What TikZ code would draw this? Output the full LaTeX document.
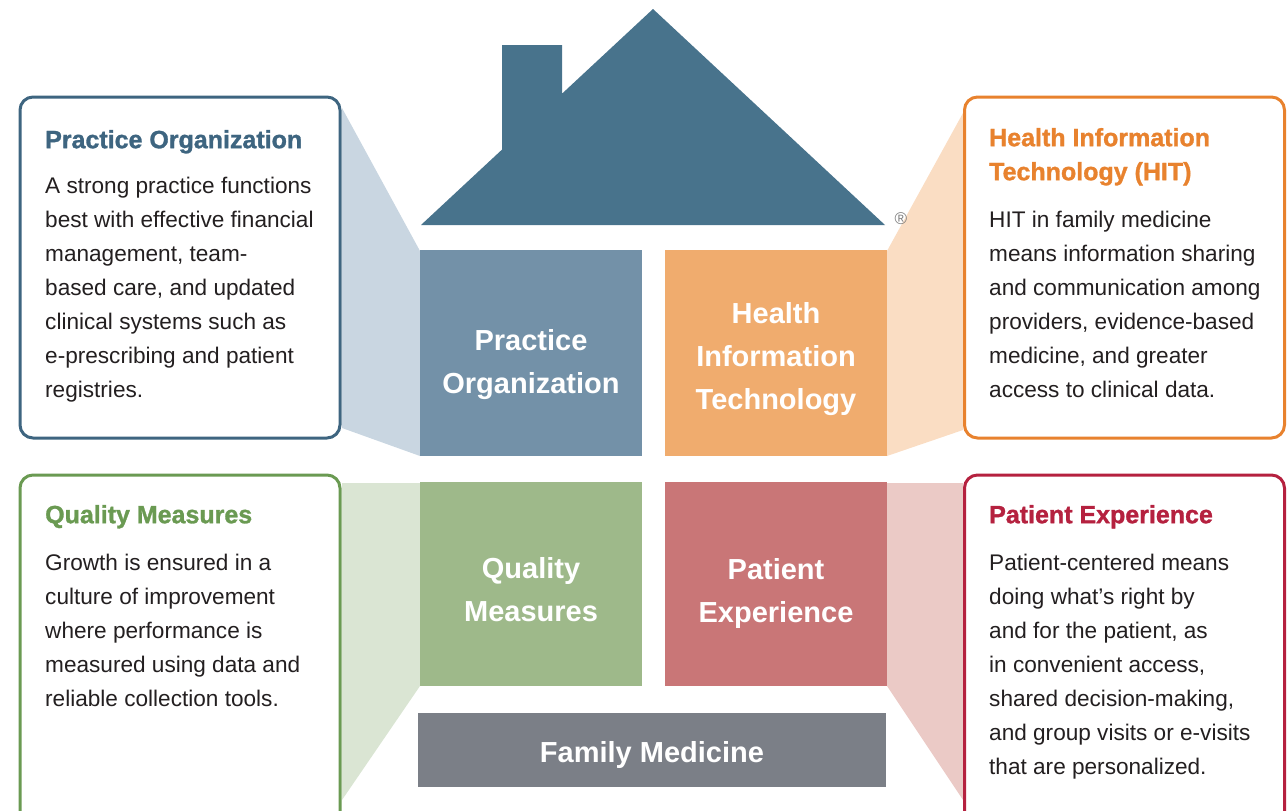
\documentclass[tikz,border=0pt]{standalone}
\usepackage{fontspec}
\setmainfont{Liberation Sans}
\newfontfamily\heavyfont[FakeBold=1.2]{Liberation Sans Bold}
\definecolor{roof}{HTML}{48738C}
\definecolor{pofill}{HTML}{7391A8}
\definecolor{hitfill}{HTML}{F0AC6E}
\definecolor{qmfill}{HTML}{9EB98A}
\definecolor{pefill}{HTML}{C97677}
\definecolor{fmfill}{HTML}{7B7F87}
\definecolor{polight}{HTML}{C9D6E1}
\definecolor{hitlight}{HTML}{FADDC3}
\definecolor{qmlight}{HTML}{DAE5D3}
\definecolor{pelight}{HTML}{EBCAC6}
\definecolor{poline}{HTML}{3E6580}
\definecolor{hitline}{HTML}{E8822E}
\definecolor{qmline}{HTML}{6A9A52}
\definecolor{peline}{HTML}{B5213F}
\definecolor{bodytxt}{HTML}{231F20}
\begin{document}
\begin{tikzpicture}[x=1pt,y=-1pt,
  callout/.style={draw, line width=3pt, rounded corners=13pt, fill=white, inner sep=0pt, minimum width=320pt},
  pillar/.style={inner sep=0pt, minimum width=222pt, minimum height=206pt},
  plabel/.style={anchor=north, inner sep=0pt, text=white, font=\bfseries\fontsize{29}{43}\selectfont, align=center},
  ctitle/.style={anchor=north west, inner sep=0pt, font=\heavyfont\fontsize{25}{34}\selectfont, align=left},
  cbody/.style={anchor=north west, inner sep=0pt, font=\fontsize{22.6}{34}\selectfont, align=left, text=bodytxt}]
\useasboundingbox (0,0) rectangle (1288,811);
\clip (0,0) rectangle (1288,811);
% connectors (light bands)
\fill[polight] (342,108) -- (420,251) -- (420,456) -- (342,428) -- cycle;
\fill[hitlight] (963,113) -- (887,251) -- (887,456) -- (963,430) -- cycle;
\fill[qmlight] (342,483) -- (420,483) -- (420,686) -- (342,800) -- cycle;
\fill[pelight] (963,483) -- (887,483) -- (887,686) -- (963,800) -- cycle;
% callout boxes
\node[callout, draw=poline, minimum height=341pt] (poc) at (180,267.5) {};
\node[callout, draw=hitline, minimum height=341pt] (hitc) at (1124.5,267.5) {};
\node[callout, draw=qmline, minimum height=365pt] (qmc) at (180,657.5) {};
\node[callout, draw=peline, minimum height=365pt] (pec) at (1124.5,657.5) {};
% callout texts
\node[ctitle, text=poline] (pot) at (45,124.2) {\strut Practice Organization};
\node[cbody] (pob) at (45,169.2) {\strut A strong practice functions\\best with effective financial\\management, team-\\based care, and updated\\clinical systems such as\\e-prescribing and patient\\registries.};
\node[ctitle, text=hitline] (hitt) at (989,122.2) {\strut Health Information\\Technology (HIT)};
\node[cbody] (hitb) at (989,203.2) {\strut HIT in family medicine\\means information sharing\\and communication among\\providers, evidence-based\\medicine, and greater\\access to clinical data.};
\node[ctitle, text=qmline] (qmt) at (45,499.2) {\strut Quality Measures};
\node[cbody] (qmb) at (45,546.2) {\strut Growth is ensured in a\\culture of improvement\\where performance is\\measured using data and\\reliable collection tools.};
\node[ctitle, text=peline] (pet) at (989,499.2) {\strut Patient Experience};
\node[cbody] (peb) at (989,546.2) {\strut Patient-centered means\\doing what’s right by\\and for the patient, as\\in convenient access,\\shared decision-making,\\and group visits or e-visits\\that are personalized.};
% house roof
\fill[roof] (421,225) -- (502,149.6) -- (502,45) -- (562,45) -- (562,93.7) -- (653,9) -- (885,225) -- cycle;
\node[text=gray, font=\fontsize{17}{17}\selectfont, inner sep=0pt] (reg) at (901,219) {\textregistered};
% pillars
\node[pillar, fill=pofill] (po) at (531,353) {};
\node[pillar, fill=hitfill] (hit) at (776,353) {};
\node[pillar, fill=qmfill, minimum height=204pt] (qm) at (531,584) {};
\node[pillar, fill=pefill, minimum height=204pt] (pe) at (776,584) {};
\node[inner sep=0pt, fill=fmfill, minimum width=468pt, minimum height=74pt] (fm) at (652,750) {};
\node[plabel] (pol) at (531,319.9) {\strut Practice\\Organization};
\node[plabel] (hitl) at (776,292.9) {\strut Health\\Information\\Technology};
\node[plabel] (qml) at (531,547.9) {\strut Quality\\Measures};
\node[plabel] (pel) at (776,549.4) {\strut Patient\\Experience};
\node[anchor=base, inner sep=0pt, text=white, font=\bfseries\fontsize{29}{43}\selectfont] (fml) at (652,762) {Family Medicine};
\end{tikzpicture}
\end{document}
